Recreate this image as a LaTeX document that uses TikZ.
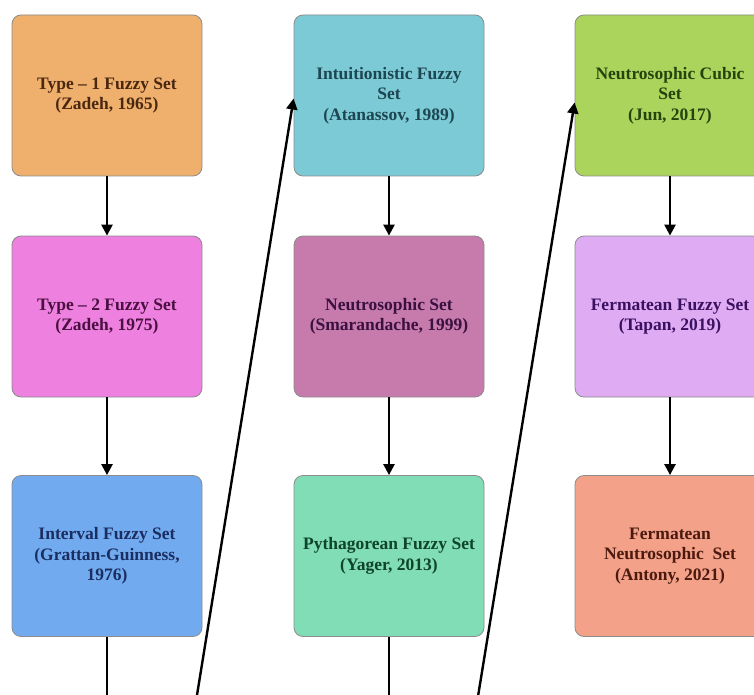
\documentclass[tikz,border=0pt]{standalone}
\usepackage{fontspec}
\setmainfont{Liberation Serif}
\usetikzlibrary{arrows.meta}
\definecolor{cA}{HTML}{EFB06E}
\definecolor{cB}{HTML}{EE80DF}
\definecolor{cC}{HTML}{72AAF0}
\definecolor{cD}{HTML}{7CCAD6}
\definecolor{cE}{HTML}{C77BAC}
\definecolor{cF}{HTML}{80DDB6}
\definecolor{cG}{HTML}{ABD45C}
\definecolor{cH}{HTML}{DFACF4}
\definecolor{cI}{HTML}{F4A189}
\definecolor{tA}{HTML}{4A2810}
\definecolor{tB}{HTML}{4A1040}
\definecolor{tC}{HTML}{1A2E60}
\definecolor{tD}{HTML}{1C4650}
\definecolor{tE}{HTML}{3A1040}
\definecolor{tF}{HTML}{0E4428}
\definecolor{tG}{HTML}{24440E}
\definecolor{tH}{HTML}{3A1060}
\definecolor{tI}{HTML}{4A1A10}
\tikzset{
  setbox/.style={draw=black!45, line width=0.8pt, rounded corners=9pt,
    minimum width=190pt, minimum height=161pt, align=center,
    font=\bfseries\fontsize{17.5}{20.5}\selectfont, inner sep=2pt},
  flow/.style={line width=2.4pt, -{Triangle[length=11pt,width=11pt]}},
  plain/.style={line width=2.4pt}
}
\begin{document}
\begin{tikzpicture}[x=1pt,y=-1pt]
\useasboundingbox[fill=white] (0,0) rectangle (754,695);
\node[setbox, fill=cA, text=tA] (t1) at (107,95.5) {Type -- 1 Fuzzy Set\\(Zadeh, 1965)};
\node[setbox, fill=cB, text=tB] (t2) at (107,316.5) {Type -- 2 Fuzzy Set\\(Zadeh, 1975)};
\node[setbox, fill=cC, text=tC] (iv) at (107,556) {Interval Fuzzy Set\\(Grattan-Guinness,\\1976)};
\node[setbox, fill=cD, text=tD] (ifs) at (389,95.5) {Intuitionistic Fuzzy\\Set\\(Atanassov, 1989)};
\node[setbox, fill=cE, text=tE] (ns) at (389,316.5) {Neutrosophic Set\\(Smarandache, 1999)};
\node[setbox, fill=cF, text=tF] (pfs) at (389,556) {Pythagorean Fuzzy Set\\(Yager, 2013)};
\node[setbox, fill=cG, text=tG] (ncs) at (670,95.5) {Neutrosophic Cubic\\Set\\(Jun, 2017)};
\node[setbox, fill=cH, text=tH] (ffs) at (670,316.5) {Fermatean Fuzzy Set\\(Tapan, 2019)};
\node[setbox, fill=cI, text=tI] (fns) at (670,556) {Fermatean\\Neutrosophic~ Set\\(Antony, 2021)};
\coordinate (b1) at (107,705);
\coordinate (d1) at (195.4,705);
\coordinate (b2) at (389,705);
\coordinate (d2) at (476.6,705);
\draw[flow] (t1) -- (t2);
\draw[flow] (t2) -- (iv);
\draw[flow] (ifs) -- (ns);
\draw[flow] (ns) -- (pfs);
\draw[flow] (ncs) -- (ffs);
\draw[flow] (ffs) -- (fns);
\draw[plain] (iv.south) -- (b1);
\draw[plain] (pfs.south) -- (b2);
\draw[flow] (d1) -- ([yshift=-3pt]ifs.west);
\draw[flow] (d2) -- ([yshift=-7pt]ncs.west);
\end{tikzpicture}
\end{document}
